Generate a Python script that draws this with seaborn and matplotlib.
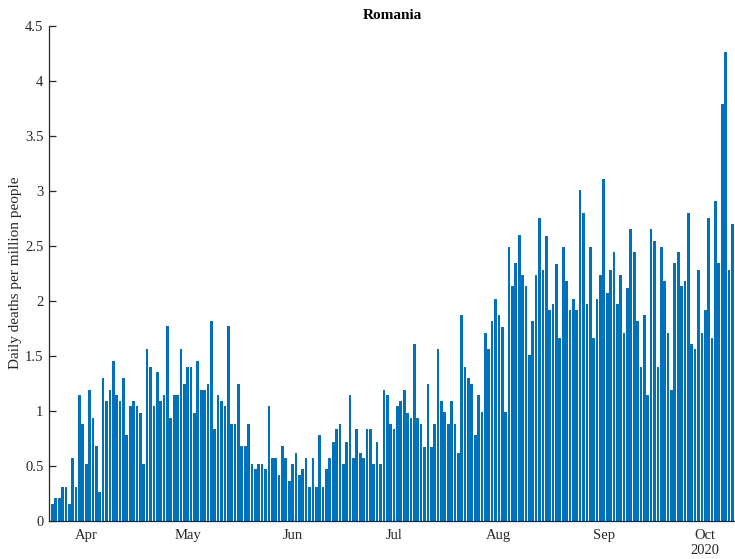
import numpy as np
import pandas as pd
import matplotlib
matplotlib.use("Agg")
import matplotlib.pyplot as plt
import seaborn as sns

# ---- data ----
start_date = "2020-03-22"
deaths_per_million = [
    0.155, 0.206, 0.206, 0.309, 0.309, 0.155, 0.57, 0.309, 1.14, 0.88,
    0.52, 1.19, 0.93, 0.68, 0.26, 1.30, 1.09, 1.19, 1.45, 1.14,
    1.09, 1.30, 0.78, 1.04, 1.09, 1.04, 0.98, 0.52, 1.56, 1.40,
    1.04, 1.35, 1.09, 1.14, 1.77,
    0.93, 1.14, 1.14, 1.56, 1.245, 1.40, 1.40, 0.98, 1.45, 1.19,
    1.19, 1.245, 1.82, 0.83, 1.14, 1.09, 1.04, 1.77, 0.88, 0.88,
    1.245, 0.68, 0.68, 0.88, 0.52, 0.47, 0.52, 0.52, 0.47, 1.04,
    0.57, 0.57, 0.415, 0.68, 0.57, 0.36,
    0.52, 0.62, 0.415, 0.47, 0.57, 0.31, 0.57, 0.31, 0.78, 0.31,
    0.47, 0.57, 0.72, 0.83, 0.88, 0.52, 0.72, 1.14, 0.57, 0.83,
    0.62, 0.57, 0.83, 0.83, 0.52, 0.72, 0.52, 1.19, 1.14, 0.88,
    0.83, 1.04, 1.09, 1.19, 0.98,
    0.93, 1.61, 0.93, 0.88, 0.67, 1.245, 0.67, 0.88, 1.56, 1.09,
    0.985, 0.88, 1.09, 0.88, 0.62, 1.87, 1.40, 1.30, 1.245, 0.78,
    1.14, 0.985, 1.71, 1.56, 1.815, 2.02, 1.87, 1.76, 0.985, 2.49,
    2.13, 2.34, 2.60, 2.23, 2.13, 1.51,
    1.815, 2.23, 2.75, 2.28, 2.59, 1.92, 1.97, 2.33, 1.66, 2.49,
    2.18, 1.92, 2.02, 1.92, 3.01, 2.80, 1.97, 2.49, 1.66, 2.02,
    2.23, 3.11, 2.07, 2.28, 2.44, 1.97, 2.23, 1.71, 2.12, 2.65,
    2.44, 1.815, 1.40, 1.87, 1.14,
    2.65, 2.54, 1.40, 2.49, 2.18, 1.71, 1.19, 2.34, 2.44, 2.13,
    2.18, 2.80, 1.61, 1.56, 2.28, 1.71, 1.92, 2.75, 1.66, 2.91,
    2.34, 3.79, 4.26, 2.28, 2.70,
]
month_starts = ["2020-04-01", "2020-05-01", "2020-06-01", "2020-07-01",
                "2020-08-01", "2020-09-01", "2020-10-01"]
month_labels = ["Apr", "May", "Jun", "Jul", "Aug", "Sep", "Oct"]
year_label = "2020"
y_ticks = [0, 0.5, 1, 1.5, 2, 2.5, 3, 3.5, 4, 4.5]
title = "Romania"
ylabel = "Daily deaths per million people"

# ---- build frame ----
start = pd.Timestamp(start_date)
n = len(deaths_per_million)
day = np.arange(n)
df = pd.DataFrame({"day": day, "value": deaths_per_million})
tick_pos = [(pd.Timestamp(m) - start).days for m in month_starts]

sns.set_style("ticks")
plt.rcParams["font.family"] = ["Liberation Serif", "DejaVu Serif"]

ink = "#262626"
fig = plt.figure(figsize=(7.35, 5.59), dpi=100)
ax = fig.add_axes([49 / 735, 1 - 520.7 / 559, (735.7 - 49) / 735, (520.7 - 25.7) / 559])

sns.barplot(data=df, x="day", y="value", native_scale=True, color="#0072BD",
            saturation=1, width=0.8, linewidth=0, edgecolor="none", ax=ax)

ax.set_xlim(-1, n)
ax.set_ylim(0, 4.5)
ax.set_yticks(y_ticks)
ax.set_yticklabels([f"{v:g}" for v in y_ticks])
ax.set_xticks(tick_pos)
ax.set_xticklabels(month_labels)

for side in ["top", "right"]:
    ax.spines[side].set_visible(False)
for side in ["left", "bottom"]:
    ax.spines[side].set_color(ink)
    ax.spines[side].set_linewidth(0.9)

ax.tick_params(axis="both", direction="in", length=4.7, width=0.9,
               color=ink, labelcolor=ink, labelsize=10.5)
ax.tick_params(axis="y", pad=4)
ax.tick_params(axis="x", pad=6)

ax.set_xlabel("")
ax.set_ylabel(ylabel, fontsize=11, color=ink)
ax.yaxis.set_label_coords(-0.039, 0.5)
ax.set_title(title, fontsize=11, fontweight="bold", color="black", pad=5)

ax.annotate(year_label, xy=(tick_pos[-1], 0), xycoords=("data", "axes fraction"),
            xytext=(0, -16.5), textcoords="offset points", ha="center", va="top",
            fontsize=10.5, color=ink)

fig.savefig("out.png", dpi=100)
